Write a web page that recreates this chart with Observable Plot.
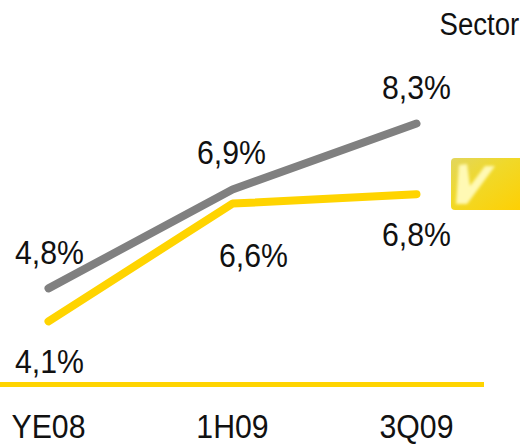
<!DOCTYPE html>
<html><head><meta charset="utf-8">
<script src="https://cdn.jsdelivr.net/npm/d3@7"></script>
<script src="https://cdn.jsdelivr.net/npm/@observablehq/plot@0.6"></script>
<style>
html,body{margin:0;padding:0;background:#fff;overflow:hidden}
#wrap{position:relative;width:520px;height:448px}
#badge{position:absolute;left:451px;top:158px}
svg{display:block}
</style></head><body>
<div id="wrap"></div>
<script>
const periods = ["YE08","1H09","3Q09"];
const sector = [4.8,6.9,8.3];
const company = [4.1,6.6,6.8];
const sectorLabels = ["4,8%","6,9%","8,3%"];
const companyLabels = ["4,1%","6,6%","6,8%"];
const legendLabel = "Sector";

const font = "'Liberation Sans',sans-serif";
const size = 34;
const label = (p, v, t, dx, dy) => Plot.text([{p, v, t}], {
  x: "p", y: "v", text: "t", dx, dy, fontSize: size, fill: "#111", textAnchor: "middle"
});
const rows = a => periods.map((p,i)=>({p, v:a[i]}));

const chart = Plot.plot({
  width: 520, height: 448,
  marginTop: 0, marginLeft: 0, marginRight: 36, marginBottom: 64,
  style: {fontFamily: font, background: "#fff"},
  x: {domain: periods, type: "point", padding: 0, range: [48,416], axis: null},
  y: {domain: [2.76,8.3], range: [384,123], axis: null},
  marks: [
    Plot.ruleY([2.76], {stroke:"#ffd400", strokeWidth:5}),
    Plot.line(rows(sector), {x:"p", y:"v", stroke:"#808080", strokeWidth:8, strokeLinejoin:"miter"}),
    Plot.line(rows(company), {x:"p", y:"v", stroke:"#ffd400", strokeWidth:8, strokeLinejoin:"miter"}),
    label(periods[0], sector[0], sectorLabels[0], 1, -35),
    label(periods[1], sector[1], sectorLabels[1], -1, -36),
    label(periods[2], sector[2], sectorLabels[2], 0, -35),
    label(periods[0], company[0], companyLabels[0], 1, 41),
    label(periods[1], company[1], companyLabels[1], 21, 53),
    label(periods[2], company[2], companyLabels[2], 0, 41),
    Plot.axisX({domain: periods, anchor:"bottom", tickSize:0, tickPadding:0, fontSize:size, label:null, fill:"#111", dy:29}),
    Plot.text([legendLabel], {frameAnchor:"top-left", dx:439, dy:25, fontSize:31, fill:"#111", textAnchor:"start", lineAnchor:"middle"})
  ]
});
const wrap = document.getElementById("wrap");
wrap.append(chart);
chart.querySelectorAll("text").forEach(t => {
  t.setAttribute("textLength", t.getComputedTextLength()*0.89);
  t.setAttribute("lengthAdjust", "spacingAndGlyphs");
});
wrap.insertAdjacentHTML("beforeend",
`<svg id="badge" width="69" height="52" viewBox="0 0 69 52">
<defs><linearGradient id="g" x1="0" y1="0" x2="1" y2="1"><stop offset="0" stop-color="#e2d65e"/><stop offset="0.4" stop-color="#f0d92a"/><stop offset="1" stop-color="#ffcf00"/></linearGradient><filter id="b"><feGaussianBlur stdDeviation="1.6"/></filter></defs>
<rect x="0" y="0" width="76" height="52" rx="4" fill="url(#g)"/>
<path d="M8 7 L16 6 L19 28 L34 8 L44 8 L16 46 L5 46 Z" fill="#fff9b4" filter="url(#b)"/>
</svg>`);
</script>
</body></html>
